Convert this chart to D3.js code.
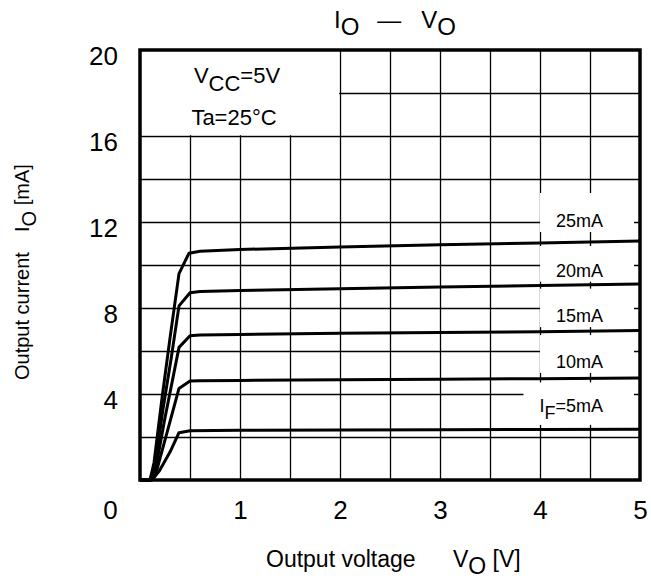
<!DOCTYPE html>
<html>
<head>
<meta charset="utf-8">
<script src="https://cdn.jsdelivr.net/npm/d3@7/dist/d3.min.js"></script>
<style>
  body { margin: 0; background: #fff; }
  text { font-family: Arial, "Liberation Sans", sans-serif; fill: #000; }
</style>
</head>
<body>
<div id="chart"></div>
<script>
// IO - VO curves, [VO (V), IO (mA)]
const curve5 = [[0, 0], [0.12, 0], [0.19, 0.4], [0.3, 1.3], [0.39, 2.2], [0.5, 2.29], [1, 2.31], [2, 2.32], [3, 2.34], [4, 2.35], [5, 2.36]];
const curve10 = [[0, 0], [0.11, 0], [0.17, 0.5], [0.27, 2.2], [0.39, 4.26], [0.5, 4.6], [0.6, 4.62], [1, 4.63], [2, 4.66], [3, 4.69], [4, 4.71], [5, 4.74]];
const curve15 = [[0, 0], [0.1, 0], [0.16, 0.6], [0.25, 2.9], [0.39, 6.17], [0.5, 6.71], [0.6, 6.74], [1, 6.77], [2, 6.82], [3, 6.86], [4, 6.9], [5, 6.95]];
const curve20 = [[0, 0], [0.1, 0], [0.15, 0.7], [0.23, 3.3], [0.31, 5.6], [0.39, 8.1], [0.5, 8.71], [0.6, 8.77], [1, 8.81], [2, 8.9], [3, 8.98], [4, 9.05], [5, 9.12]];
const curve25 = [[0, 0], [0.1, 0], [0.14, 0.8], [0.22, 3.8], [0.3, 6.6], [0.39, 9.6], [0.49, 10.55], [0.6, 10.64], [1, 10.72], [2, 10.84], [3, 10.94], [4, 11.02], [5, 11.12]];

const curves = [curve5, curve10, curve15, curve20, curve25];
// label = [main, subscript, rest]
const curveLabels = [['I', 'F', '=5mA'], ['10mA', '', ''], ['15mA', '', ''], ['20mA', '', ''], ['25mA', '', '']];

const xTicks = [0, 1, 2, 3, 4, 5];
const yTicks = [4, 8, 12, 16, 20];

const width = 651;
const height = 579;

const x = d3.scaleLinear().domain([0, 5]).range([140, 640]);
const y = d3.scaleLinear().domain([0, 20]).range([480, 50]);

const svg = d3.select('#chart')
  .append('svg')
  .attr('width', width)
  .attr('height', height)
  .attr('viewBox', [0, 0, width, height]);

svg.append('rect').attr('width', width).attr('height', height).attr('fill', '#fff');

// grid
const gx = svg.append('g')
  .attr('transform', `translate(0,${y(0)})`)
  .call(d3.axisBottom(x).tickValues(d3.range(0.5, 5, 0.5)).tickSize(-(y(0) - y(20))).tickFormat(''));
const gy = svg.append('g')
  .attr('transform', `translate(${x(0)},0)`)
  .call(d3.axisLeft(y).tickValues(d3.range(2, 20, 2)).tickSize(-(x(5) - x(0))).tickFormat(''));
[gx, gy].forEach(g => {
  g.select('.domain').remove();
  g.selectAll('line').attr('stroke', '#000').attr('stroke-width', 1.3);
});

// conditions box
svg.append('rect')
  .attr('x', x(0))
  .attr('y', y(20))
  .attr('width', x(2) - x(0) - 0.8)
  .attr('height', y(16) - y(20) - 0.8)
  .attr('fill', '#fff');

const cond = svg.append('text')
  .attr('x', 237)
  .attr('y', 83)
  .attr('text-anchor', 'middle')
  .attr('font-size', 22);
cond.append('tspan').text('V');
cond.append('tspan').attr('dy', 8).text('CC');
cond.append('tspan').attr('dy', -8).text('=5V');

svg.append('text')
  .attr('x', 234)
  .attr('y', 125)
  .attr('text-anchor', 'middle')
  .attr('font-size', 22)
  .text('Ta=25°C');

// label boxes
function valueAt(c, v) {
  const i = d3.bisector(d => d[0]).right(c, v);
  const a = c[i - 1], b = c[Math.min(i, c.length - 1)];
  if (a[0] === b[0]) return a[1];
  return a[1] + (b[1] - a[1]) * (v - a[0]) / (b[0] - a[0]);
}

const boxGap = [4.5, 5.5, 4, 3, 10];
curves.forEach((c, i) => {
  const bottom = y(valueAt(c, 4.5)) - boxGap[i];
  const top = i < curves.length - 1 ? y(valueAt(curves[i + 1], 4.5)) + 4 : bottom - 39;
  const hasSub = curveLabels[i][1] !== '';
  const g = svg.append('g');
  const r = g.append('rect').attr('fill', '#fff');
  const t = g.append('text')
    .attr('x', 603)
    .attr('y', bottom - (hasSub ? 13 : 5))
    .attr('text-anchor', 'end')
    .attr('font-size', 18);
  t.append('tspan').text(curveLabels[i][0]);
  if (hasSub) {
    t.append('tspan').attr('dy', 7).text(curveLabels[i][1]);
    t.append('tspan').attr('dy', -7).text(curveLabels[i][2]);
  }
  const bb = t.node().getBBox();
  r.attr('x', bb.x - 16).attr('y', top).attr('width', 634 - (bb.x - 16)).attr('height', bottom - top);
});

// curves
const line = d3.line().x(d => x(d[0])).y(d => y(d[1]));
svg.append('g')
  .selectAll('path')
  .data(curves)
  .join('path')
  .attr('d', line)
  .attr('fill', 'none')
  .attr('stroke', '#000')
  .attr('stroke-width', 3)
  .attr('stroke-linejoin', 'round');

// frame
svg.append('rect')
  .attr('x', x(0))
  .attr('y', y(20))
  .attr('width', x(5) - x(0))
  .attr('height', y(0) - y(20))
  .attr('fill', 'none')
  .attr('stroke', '#000')
  .attr('stroke-width', 3.5);

// tick labels
const ax = svg.append('g')
  .attr('transform', `translate(0,${y(0)})`)
  .call(d3.axisBottom(x).tickValues(xTicks).tickFormat(d3.format('d')).tickSize(0).tickPadding(21));
const ay = svg.append('g')
  .attr('transform', `translate(${x(0)},0)`)
  .call(d3.axisLeft(y).tickValues(yTicks).tickFormat(d3.format('d')).tickSize(0).tickPadding(22));
[ax, ay].forEach(g => {
  g.select('.domain').remove();
  g.selectAll('text')
    .attr('font-size', 26)
    .attr('font-family', 'Arial, "Liberation Sans", sans-serif')
    .attr('fill', '#000');
});
ax.selectAll('text').filter(d => d === 0).attr('x', -30);
ay.selectAll('text').attr('y', 6);

// title
const title = svg.append('text')
  .attr('x', 334)
  .attr('y', 28)
  .attr('font-size', 24);
title.append('tspan').text('I');
title.append('tspan').attr('dy', 7).text('O');
title.append('tspan').attr('dy', -7).attr('dx', 18).text('—');
title.append('tspan').attr('dx', 20).text('V');
title.append('tspan').attr('dy', 7).text('O');

// x label
const xl = svg.append('text')
  .attr('x', 266)
  .attr('y', 567)
  .attr('font-size', 23);
xl.append('tspan').text('Output voltage');
xl.append('tspan').attr('x', 453).text('V');
xl.append('tspan').attr('dy', 7).text('O');
xl.append('tspan').attr('dy', -7).text(' [V]');

// y label
const yl = svg.append('text')
  .attr('transform', 'translate(29,380) rotate(-90)')
  .attr('font-size', 20);
yl.append('tspan').text('Output current');
yl.append('tspan').attr('x', 148).text('I');
yl.append('tspan').attr('dy', 7).text('O');
yl.append('tspan').attr('dy', -7).text(' [mA]');
</script>
</body>
</html>
